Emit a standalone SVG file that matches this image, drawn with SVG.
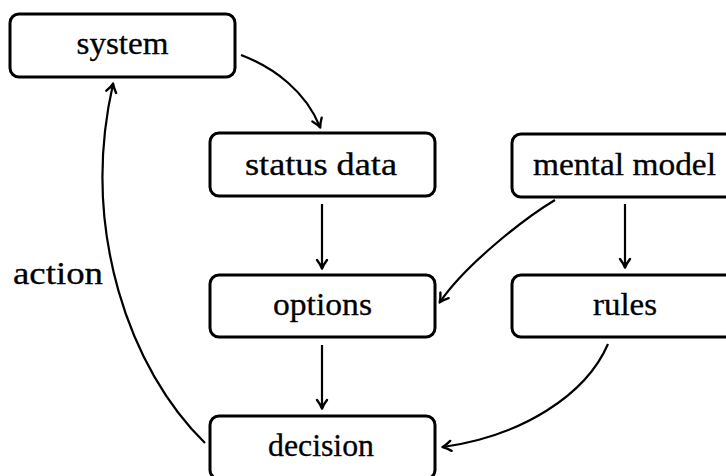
<svg xmlns="http://www.w3.org/2000/svg" width="726" height="476" viewBox="0 0 726 476">
  <style>
    .box { fill: #fff; stroke: #000; stroke-width: 3; }
    .lbl { font-family: "Liberation Serif", "Times New Roman", serif; font-size: 31px; fill: #000; stroke: #000; stroke-width: 0.3; text-anchor: middle; }
    .edge { fill: none; stroke: #000; stroke-width: 2.2; marker-end: url(#tip); }
  </style>
  <defs>
    <!-- curved-barb arrow tip, drawn in user units so every connector gets the same size -->
    <marker id="tip" markerUnits="userSpaceOnUse" markerWidth="16" markerHeight="16" viewBox="-10 -8 12 16" refX="0" refY="0" orient="auto">
      <path d="M-8,-5 Q-3,-1.2 0.5,0 Q-3,1.2 -8,5" fill="none" stroke="#000" stroke-width="2.4" stroke-linecap="round" stroke-linejoin="round"/>
    </marker>
  </defs>

  <g id="system">
    <rect class="box" x="10" y="14" width="225" height="63" rx="9"/>
    <text class="lbl" x="122.5" y="54" textLength="92" lengthAdjust="spacingAndGlyphs">system</text>
  </g>
  <g id="status-data">
    <rect class="box" x="210" y="133" width="225" height="63" rx="9"/>
    <text class="lbl" x="321" y="175" textLength="152" lengthAdjust="spacingAndGlyphs">status data</text>
  </g>
  <g id="mental-model">
    <rect class="box" x="512" y="134" width="225" height="63" rx="9"/>
    <text class="lbl" x="624.5" y="175" textLength="183" lengthAdjust="spacingAndGlyphs">mental model</text>
  </g>
  <g id="options">
    <rect class="box" x="210" y="275" width="225" height="62" rx="9"/>
    <text class="lbl" x="322.5" y="315" textLength="99" lengthAdjust="spacingAndGlyphs">options</text>
  </g>
  <g id="rules">
    <rect class="box" x="512" y="275" width="225" height="62" rx="9"/>
    <text class="lbl" x="625" y="315" textLength="64" lengthAdjust="spacingAndGlyphs">rules</text>
  </g>
  <g id="decision">
    <rect class="box" x="210" y="416" width="225" height="63" rx="9"/>
    <text class="lbl" x="321" y="456" textLength="106" lengthAdjust="spacingAndGlyphs">decision</text>
  </g>

  <g id="connectors">
    <path class="edge" d="M241,55 C275,68 306,92 320,127"/>
    <path class="edge" d="M322,204 L322,268"/>
    <path class="edge" d="M322,345 L322,408"/>
    <path class="edge" d="M625,204 L625,267"/>
    <path class="edge" d="M555,200 C525,218 466,264 440,302"/>
    <path class="edge" d="M608,344 C586,395 522,436 443,447"/>
    <path class="edge" d="M205,443 C130,370 80,230 113,84"/>
    <text class="lbl" x="103" y="284" style="text-anchor:end" textLength="90" lengthAdjust="spacingAndGlyphs">action</text>
  </g>
</svg>
